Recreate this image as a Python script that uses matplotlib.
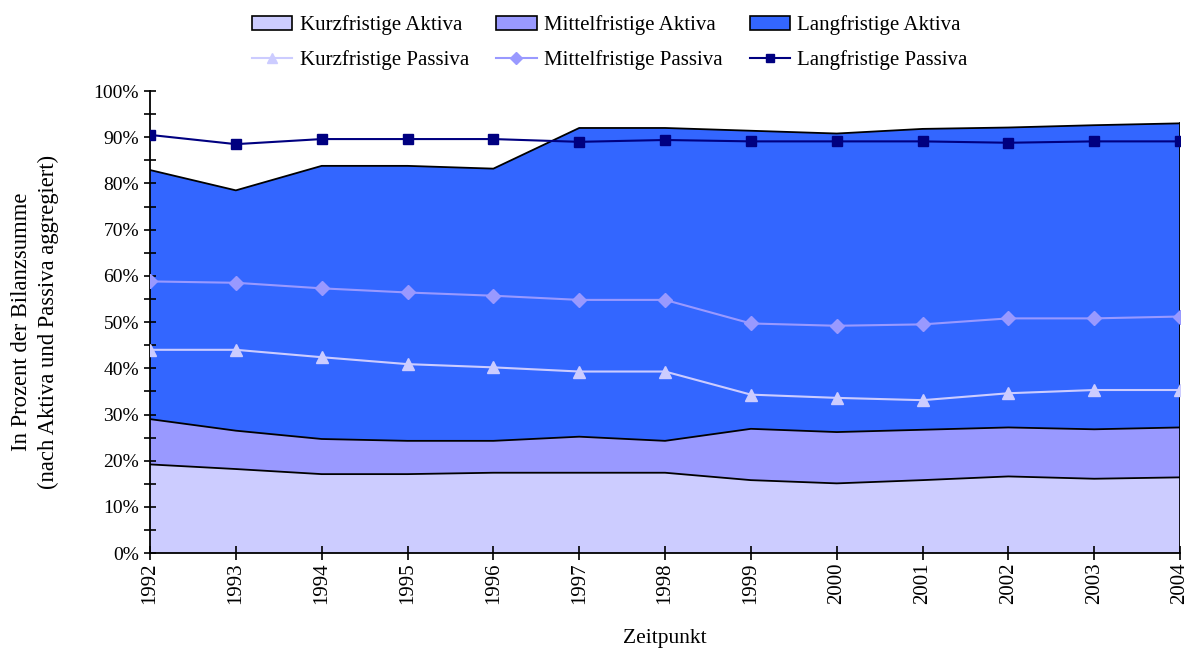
import matplotlib.pyplot as plt
import numpy as np
from matplotlib.patches import Patch
from matplotlib.lines import Line2D
from matplotlib.ticker import MultipleLocator, PercentFormatter

plt.rcParams["font.family"] = ["Liberation Serif", "DejaVu Serif"]

years = list(range(1992, 2005))

# Aktiva shares in percent (stacked)
kurz_aktiva = [19.2, 18.2, 17.1, 17.1, 17.4, 17.4, 17.4, 15.8, 15.1, 15.8, 16.6, 16.1, 16.4]
mittel_aktiva = [9.8, 8.3, 7.6, 7.2, 6.9, 7.8, 6.9, 11.1, 11.1, 10.9, 10.6, 10.7, 10.8]
lang_aktiva = [53.9, 52.0, 59.1, 59.5, 58.9, 66.8, 67.7, 64.5, 64.6, 65.1, 64.9, 65.8, 65.8]

# Passiva, already aggregated (cumulative) in percent
kurz_passiva = [44.0, 44.0, 42.4, 40.9, 40.2, 39.3, 39.3, 34.3, 33.6, 33.1, 34.6, 35.3, 35.3]
mittel_passiva = [58.8, 58.5, 57.3, 56.4, 55.7, 54.8, 54.8, 49.7, 49.2, 49.5, 50.8, 50.8, 51.2]
lang_passiva = [90.5, 88.5, 89.6, 89.6, 89.6, 89.0, 89.4, 89.1, 89.1, 89.1, 88.8, 89.1, 89.1]

c_kurz = "#CCCCFF"
c_mittel = "#9999FF"
c_lang = "#3366FF"
c_navy = "#000080"

fig = plt.figure(figsize=(11.84, 6.5), dpi=100)
ax = fig.add_axes([0.1267, 0.149, 0.87, 0.711])

x = np.array(years)
s1 = np.array(kurz_aktiva)
s2 = s1 + np.array(mittel_aktiva)
s3 = s2 + np.array(lang_aktiva)

ax.fill_between(x, 0, s1, facecolor=c_kurz, edgecolor="none", zorder=1)
ax.fill_between(x, s1, s2, facecolor=c_mittel, edgecolor="none", zorder=1)
ax.fill_between(x, s2, s3, facecolor=c_lang, edgecolor="none", zorder=1)
for top in (s1, s2, s3):
    ax.plot(x, top, color="black", lw=1.3, zorder=2)
ax.plot([x[-1], x[-1]], [0, s3[-1]], color="black", lw=1.3, zorder=2)

ax.plot(x, kurz_passiva, color=c_kurz, lw=1.5, marker="^", ms=8, zorder=3)
ax.plot(x, mittel_passiva, color=c_mittel, lw=1.5, marker="D", ms=7, zorder=3)
ax.plot(x, lang_passiva, color=c_navy, lw=1.5, marker="s", ms=7, zorder=3)

ax.set_xlim(1992, 2004)
ax.set_ylim(0, 100)
ax.set_xticks(years)
ax.set_xticklabels([str(y) for y in years], rotation=90, fontsize=15)
ax.yaxis.set_major_locator(MultipleLocator(10))
ax.yaxis.set_minor_locator(MultipleLocator(5))
ax.yaxis.set_major_formatter(PercentFormatter(decimals=0))
ax.tick_params(axis="y", which="both", direction="inout", length=9, width=1.2, labelsize=14)
ax.tick_params(axis="x", direction="inout", length=10, width=1.2, pad=2)
for side in ("top", "right"):
    ax.spines[side].set_visible(False)
for side in ("left", "bottom"):
    ax.spines[side].set_linewidth(1.3)

ax.set_ylabel("In Prozent der Bilanzsumme\n(nach Aktiva und Passiva aggregiert)",
              fontsize=16.3, labelpad=25, linespacing=1.35)
ax.set_xlabel("Zeitpunkt", fontsize=15.5, labelpad=18)

handles = [
    Patch(facecolor=c_kurz, edgecolor="black", lw=1.2),
    Line2D([], [], color=c_kurz, marker="^", ms=7, lw=1.5),
    Patch(facecolor=c_mittel, edgecolor="black", lw=1.2),
    Line2D([], [], color=c_mittel, marker="D", ms=6, lw=1.5),
    Patch(facecolor=c_lang, edgecolor="black", lw=1.2),
    Line2D([], [], color=c_navy, marker="s", ms=6, lw=1.5),
]
labels = ["Kurzfristige Aktiva", "Kurzfristige Passiva",
          "Mittelfristige Aktiva", "Mittelfristige Passiva",
          "Langfristige Aktiva", "Langfristige Passiva"]
fig.legend(handles, labels, ncol=3, loc="upper center", bbox_to_anchor=(0.515, 1.005),
           frameon=False, fontsize=15, handlelength=1.95, columnspacing=1.3,
           handletextpad=0.35, labelspacing=0.7)

fig.savefig("out.png", dpi=100)
